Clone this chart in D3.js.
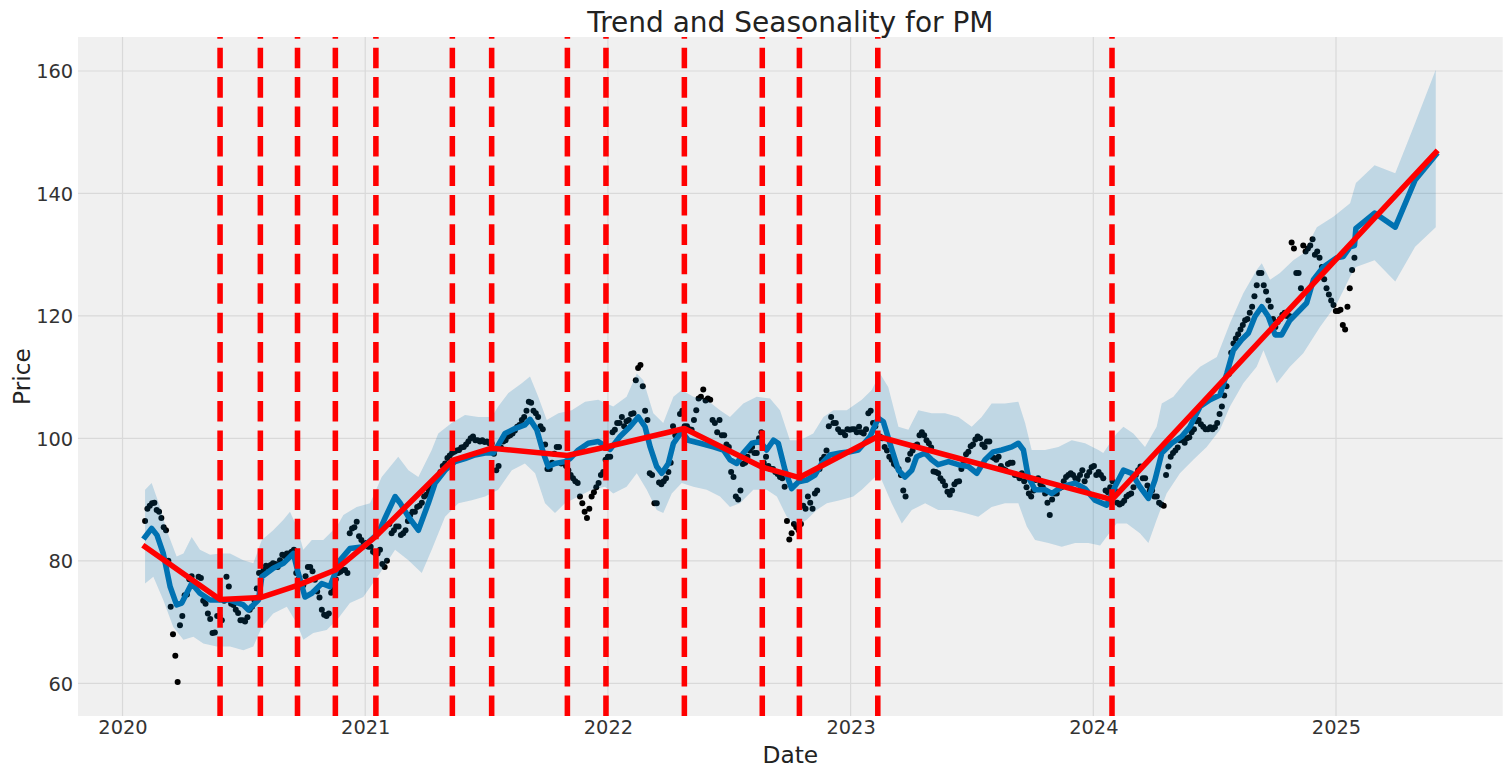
<!DOCTYPE html>
<html>
<head>
<meta charset="utf-8">
<script src="https://cdn.jsdelivr.net/npm/d3@7"></script>
<style>
  html, body { margin: 0; padding: 0; background: #ffffff; }
  svg { display: block; font-family: "DejaVu Sans", sans-serif; }
</style>
</head>
<body>
<svg id="chart" width="1510" height="776"></svg>
<script>
// ---------------- data (decimal years / price) ----------------
const xTicks = [2020, 2021, 2022, 2023, 2024, 2025];
const yTicks = [60, 80, 100, 120, 140, 160];

// observed closes: one value per week (Mondays, from 2020-02-03)
const obsStart = 2020.093;
const obsStepYears = 7 / 365.25;
const observed = [
  86.5, 89.0, 89.5, 88.0, 85.5, 80.0, 68.0, 60.2, 71.0, 74.5,
  77.5, 76.0, 77.2, 73.0, 70.5, 68.3, 71.0, 73.5, 75.8, 72.8,
  71.5, 70.3, 70.8, 72.5, 75.5, 78.0, 79.2, 79.3, 79.5, 80.1,
  80.8, 81.2, 81.8, 77.0, 76.0, 79.0, 78.3, 75.0, 72.0, 71.0,
  74.8, 77.0, 78.2, 78.5, 84.5, 85.5, 84.0, 82.8, 82.3, 81.5,
  81.2, 79.5, 80.0, 84.5, 85.6, 84.2, 85.0, 87.5, 88.0, 89.0,
  90.5, 91.5, 92.8, 93.7, 95.5, 96.8, 97.6, 98.0, 98.5, 99.0,
  100.0, 99.7, 99.5, 99.4, 99.2, 97.5, 95.5, 99.5, 100.3, 100.8,
  101.9, 103.0, 104.5, 105.8, 104.1, 102.0, 99.0, 95.0, 97.5, 98.6,
  96.0, 94.8, 93.5, 92.7, 89.4, 87.0, 90.5, 92.0, 94.0, 96.5,
  97.0, 101.4, 102.5, 102.0, 103.0, 104.1, 111.5, 108.5, 103.0, 94.0,
  89.4, 92.5, 93.5, 96.0, 100.5, 104.0, 102.0, 101.5, 103.0, 106.5,
  108.0, 106.5, 103.0, 101.0, 100.5, 99.0, 94.5, 90.5, 91.5, 96.0,
  98.0, 97.6, 100.0, 96.0, 95.5, 95.0, 94.2, 93.5, 86.5, 84.5,
  85.5, 86.0, 88.5, 89.5, 91.0, 95.0, 97.0, 102.0, 102.5, 101.5,
  101.0, 101.5, 101.5, 101.0, 101.0, 101.5, 104.5, 102.0, 100.3, 98.6,
  97.0, 95.8, 95.0, 91.5, 96.5, 98.0, 99.0, 101.0, 99.7, 98.5,
  94.5, 93.5, 92.3, 90.8, 92.5, 93.0, 96.3, 97.8, 99.0, 100.3,
  99.0, 99.5, 97.0, 96.5, 95.5, 94.8, 96.0, 94.0, 93.5, 93.0,
  91.0, 91.5, 93.5, 92.0, 89.5, 90.0, 91.0, 92.0, 93.7, 94.3,
  93.5, 94.0, 93.0, 94.5, 95.5, 94.5, 93.5, 91.2, 93.0, 89.5,
  89.4, 90.5, 91.0, 94.0, 95.4, 93.5, 91.5, 90.5, 89.5, 89.0,
  95.4, 97.6, 98.5, 99.7, 100.0, 101.0, 102.8, 102.3, 101.5, 101.8,
  101.8, 104.0, 107.0, 110.5, 115.5, 117.0, 118.5, 119.5, 121.5, 125.0,
  127.0, 124.0, 121.5, 118.2, 119.5, 120.5, 120.0, 131.0, 127.0, 131.5,
  131.0, 132.5, 130.5, 128.0, 124.5, 122.5, 120.8, 121.0, 117.8, 124.5,
  129.5
];
// observed closes: a second value per week (Thursdays, from 2020-02-06)
const obsMidOffsetYears = 3.5 / 365.25;
const observedMid = [
  88.5, 89.4, 88.3, 87.0, 85.0, 72.5, 64.5, 69.5, 74.4, 77.0,
  76.6, 77.4, 73.5, 71.4, 68.2, 71.0, 70.3, 77.4, 73.0, 72.0,
  70.3, 70.1, 72.0, 73.6, 78.0, 78.5, 79.0, 79.6, 79.0, 81.0,
  81.2, 81.5, 78.0, 75.8, 77.5, 79.0, 76.9, 74.0, 71.2, 71.4,
  75.5, 78.0, 78.5, 78.0, 85.3, 86.4, 83.4, 82.9, 82.3, 81.2,
  81.8, 79.0, 86.0, 85.0, 85.6, 84.5, 86.5, 88.0, 88.8, 89.5,
  90.8, 92.0, 93.2, 94.5, 95.9, 97.2, 97.8, 98.1, 98.6, 99.5,
  100.3, 99.7, 99.7, 99.5, 99.2, 94.8, 98.5, 99.7, 100.5, 101.3,
  102.2, 103.5, 106.0, 104.5, 103.5, 101.5, 95.0, 96.0, 98.6, 95.9,
  95.5, 94.0, 93.0, 90.5, 88.0, 88.5, 91.2, 92.7, 94.5, 97.0,
  101.0, 102.5, 103.5, 102.8, 104.0, 109.5, 112.0, 104.5, 94.3, 89.4,
  92.8, 93.0, 94.5, 102.0, 100.5, 104.5, 102.0, 101.4, 104.6, 106.8,
  106.2, 106.3, 102.5, 103.0, 100.5, 98.6, 93.7, 90.0, 95.8, 97.0,
  98.6, 97.6, 101.0, 97.0, 95.0, 94.5, 93.7, 92.1, 83.5, 86.0,
  85.0, 89.0, 90.5, 88.5, 91.5, 96.5, 98.0, 103.5, 102.5, 101.0,
  100.5, 101.4, 101.5, 101.9, 100.8, 104.1, 102.5, 100.3, 100.0, 98.0,
  96.5, 95.5, 94.0, 90.5, 97.5, 98.8, 100.5, 100.5, 99.2, 94.6,
  94.3, 93.0, 91.3, 91.5, 92.9, 95.0, 97.4, 98.7, 99.8, 100.0,
  98.6, 99.5, 96.8, 97.0, 95.0, 95.8, 96.0, 94.0, 94.3, 92.0,
  90.5, 93.2, 92.5, 91.0, 87.5, 91.0, 91.8, 93.0, 94.0, 94.0,
  93.3, 94.8, 93.9, 95.3, 94.0, 94.0, 91.5, 92.0, 91.5, 89.2,
  89.8, 90.8, 92.0, 94.8, 93.5, 92.3, 91.5, 90.5, 89.2, 94.0,
  97.0, 98.0, 99.7, 99.3, 100.2, 101.5, 103.0, 101.9, 101.5, 101.5,
  102.5, 105.2, 108.5, 114.0, 116.3, 117.8, 119.3, 120.5, 123.2, 127.0,
  125.0, 122.5, 119.5, 119.0, 120.2, 120.0, 132.0, 127.0, 124.5, 130.5,
  131.5, 130.0, 129.5, 126.0, 123.5, 121.8, 120.8, 118.5, 121.5, 127.5
];

// model fit (yhat) over history and monthly forecast
const fcstT = [
  2020.093, 2020.120, 2020.142, 2020.168, 2020.196, 2020.223, 2020.244, 2020.285, 2020.319, 2020.361,
  2020.443, 2020.498, 2020.518, 2020.560, 2020.574, 2020.621, 2020.663, 2020.704, 2020.724, 2020.752,
  2020.780, 2020.821, 2020.855, 2020.896, 2020.937, 2020.992, 2021.054, 2021.082, 2021.123, 2021.143,
  2021.178, 2021.219, 2021.260, 2021.288, 2021.329, 2021.370, 2021.411, 2021.452, 2021.494, 2021.528,
  2021.548, 2021.576, 2021.617, 2021.658, 2021.679, 2021.707, 2021.734, 2021.754, 2021.782, 2021.823,
  2021.844, 2021.878, 2021.919, 2021.960, 2022.009, 2022.050, 2022.091, 2022.125, 2022.153, 2022.174,
  2022.201, 2022.222, 2022.249, 2022.270, 2022.304, 2022.331, 2022.380, 2022.434, 2022.476, 2022.503,
  2022.531, 2022.558, 2022.593, 2022.627, 2022.654, 2022.682, 2022.702, 2022.730, 2022.757, 2022.785,
  2022.819, 2022.853, 2022.881, 2022.915, 2022.956, 2022.998, 2023.032, 2023.080, 2023.114, 2023.135,
  2023.162, 2023.197, 2023.224, 2023.252, 2023.272, 2023.307, 2023.334, 2023.361, 2023.403, 2023.444,
  2023.485, 2023.520, 2023.554, 2023.588, 2023.623, 2023.664, 2023.691, 2023.712, 2023.732, 2023.760,
  2023.801, 2023.829, 2023.870, 2023.925, 2023.966, 2024.007, 2024.055, 2024.089, 2024.124, 2024.158,
  2024.192, 2024.227, 2024.254, 2024.282, 2024.323, 2024.364, 2024.398, 2024.440, 2024.481, 2024.522,
  2024.550, 2024.577, 2024.611, 2024.639, 2024.666, 2024.694, 2024.721, 2024.749, 2024.776, 2024.810,
  2024.852, 2024.879, 2024.907, 2024.948, 2025.003, 2025.030, 2025.058, 2025.076, 2025.082, 2025.159,
  2025.244, 2025.326, 2025.411
];
const yhat = [
  83.9, 85.3, 84.2, 81.2, 75.8, 72.8, 73.1, 76.3, 74.7, 73.6,
  73.6, 72.8, 72.0, 73.6, 77.4, 78.8, 79.6, 81.2, 78.0, 74.1,
  74.7, 76.3, 75.8, 80.1, 82.0, 82.3, 84.5, 87.0, 90.5, 89.5,
  87.2, 85.0, 89.4, 92.7, 94.8, 96.2, 96.7, 97.3, 97.6, 97.6,
  98.9, 100.8, 101.6, 102.2, 103.1, 101.4, 97.6, 95.4, 95.9, 96.2,
  96.7, 98.1, 99.2, 99.5, 98.2, 100.3, 101.9, 103.5, 101.9, 98.6,
  95.4, 94.3, 95.9, 99.2, 101.1, 99.7, 99.2, 98.6, 98.1, 96.5,
  95.9, 97.6, 99.2, 99.5, 98.1, 99.7, 99.2, 94.8, 91.8, 92.9,
  93.2, 94.0, 95.9, 97.3, 97.6, 97.8, 98.1, 100.3, 103.3, 102.7,
  99.2, 94.8, 93.7, 94.8, 97.0, 97.6, 96.5, 95.7, 96.2, 95.7,
  95.4, 94.3, 96.5, 97.8, 98.1, 98.6, 99.2, 98.1, 93.7, 91.6,
  91.6, 91.0, 92.1, 92.7, 91.8, 89.9, 89.1, 92.1, 94.8, 94.3,
  92.1, 90.2, 93.2, 97.6, 99.2, 100.3, 101.9, 105.2, 106.3, 107.1,
  110.6, 114.4, 116.1, 117.2, 119.9, 121.5, 119.9, 116.9, 116.9, 119.3,
  121.0, 122.1, 125.9, 128.0, 129.5, 129.7, 131.3, 131.5, 134.3, 136.8,
  134.5, 142.2, 146.3
];

// uncertainty interval, upper edge
const upperT = [
  2020.093, 2020.120, 2020.155, 2020.182, 2020.223, 2020.251, 2020.285, 2020.319, 2020.361, 2020.402,
  2020.443, 2020.498, 2020.539, 2020.574, 2020.621, 2020.663, 2020.690, 2020.718, 2020.745, 2020.780,
  2020.827, 2020.883, 2020.910, 2020.965, 2021.020, 2021.068, 2021.136, 2021.178, 2021.219, 2021.274,
  2021.301, 2021.356, 2021.411, 2021.466, 2021.521, 2021.548, 2021.590, 2021.645, 2021.679, 2021.713,
  2021.748, 2021.796, 2021.851, 2021.906, 2021.960, 2022.022, 2022.077, 2022.119, 2022.146, 2022.187,
  2022.228, 2022.270, 2022.304, 2022.352, 2022.407, 2022.462, 2022.503, 2022.558, 2022.613, 2022.668,
  2022.709, 2022.750, 2022.792, 2022.846, 2022.888, 2022.929, 2022.984, 2023.046, 2023.087, 2023.121,
  2023.155, 2023.197, 2023.238, 2023.279, 2023.334, 2023.389, 2023.444, 2023.499, 2023.540, 2023.581,
  2023.636, 2023.691, 2023.719, 2023.746, 2023.801, 2023.856, 2023.911, 2023.966, 2024.021, 2024.041,
  2024.096, 2024.124, 2024.165, 2024.213, 2024.261, 2024.282, 2024.330, 2024.385, 2024.440, 2024.509,
  2024.563, 2024.618, 2024.673, 2024.694, 2024.728, 2024.769, 2024.824, 2024.865, 2024.921, 2024.989,
  2025.058, 2025.082, 2025.159, 2025.244, 2025.326, 2025.411
];
const upper = [
  91.6, 92.7, 88.8, 85.0, 80.7, 81.2, 83.9, 81.8, 81.0, 81.2,
  81.2, 80.1, 79.6, 83.4, 85.0, 86.7, 88.0, 85.6, 81.8, 83.4,
  83.4, 85.6, 87.5, 88.8, 89.4, 93.7, 97.0, 94.8, 93.7, 98.1,
  100.8, 102.5, 103.8, 103.5, 103.5, 105.2, 107.4, 109.0, 110.1, 106.8,
  103.0, 104.1, 104.6, 106.0, 106.3, 105.2, 106.8, 110.6, 109.5, 104.1,
  102.5, 106.8, 107.9, 106.8, 106.3, 104.6, 103.5, 105.7, 106.8, 106.5,
  104.6, 99.7, 99.7, 100.8, 103.5, 104.6, 104.6, 106.3, 107.9, 110.6,
  108.4, 101.9, 101.4, 104.6, 104.1, 104.1, 103.5, 101.9, 103.5, 105.7,
  105.7, 106.0, 102.5, 98.1, 98.1, 98.6, 99.7, 99.2, 98.1, 97.6,
  100.8, 101.9, 100.8, 98.6, 101.9, 105.7, 106.8, 109.5, 111.7, 113.3,
  118.8, 123.7, 127.5, 128.6, 125.9, 127.0, 129.1, 130.2, 134.5, 136.2,
  138.4, 141.7, 144.6, 143.3, 151.5, 160.2
];

// uncertainty interval, lower edge
const lowerT = [
  2020.093, 2020.127, 2020.168, 2020.209, 2020.251, 2020.292, 2020.333, 2020.388, 2020.443, 2020.498,
  2020.539, 2020.574, 2020.621, 2020.677, 2020.718, 2020.745, 2020.786, 2020.841, 2020.883, 2020.937,
  2020.992, 2021.061, 2021.123, 2021.178, 2021.233, 2021.274, 2021.329, 2021.384, 2021.439, 2021.494,
  2021.548, 2021.604, 2021.658, 2021.700, 2021.741, 2021.782, 2021.823, 2021.878, 2021.933, 2021.988,
  2022.022, 2022.077, 2022.119, 2022.160, 2022.201, 2022.228, 2022.263, 2022.304, 2022.352, 2022.407,
  2022.462, 2022.503, 2022.544, 2022.599, 2022.654, 2022.696, 2022.737, 2022.778, 2022.819, 2022.860,
  2022.902, 2022.956, 2023.011, 2023.046, 2023.101, 2023.128, 2023.169, 2023.211, 2023.252, 2023.307,
  2023.361, 2023.417, 2023.471, 2023.526, 2023.581, 2023.636, 2023.691, 2023.726, 2023.760, 2023.815,
  2023.870, 2023.925, 2023.979, 2024.028, 2024.096, 2024.138, 2024.192, 2024.227, 2024.261, 2024.302,
  2024.357, 2024.412, 2024.467, 2024.522, 2024.563, 2024.618, 2024.673, 2024.701, 2024.728, 2024.756,
  2024.810, 2024.865, 2024.934, 2025.003, 2025.058, 2025.082, 2025.159, 2025.244, 2025.326, 2025.411
];
const lower = [
  76.3, 77.4, 73.6, 69.2, 67.1, 67.6, 66.5, 66.0, 66.0, 65.4,
  66.0, 69.2, 71.4, 72.5, 69.8, 67.1, 68.2, 68.7, 70.3, 73.1,
  74.1, 78.0, 81.8, 80.1, 78.0, 81.8, 87.2, 89.4, 89.9, 90.5,
  91.6, 94.8, 95.9, 94.3, 89.4, 87.8, 89.4, 90.5, 91.6, 92.1,
  91.0, 92.1, 94.3, 91.6, 88.3, 87.8, 91.0, 92.7, 92.1, 91.6,
  90.5, 88.8, 89.4, 91.6, 91.6, 90.5, 87.2, 85.6, 86.7, 88.3,
  89.4, 89.9, 90.5, 91.6, 93.7, 93.2, 89.4, 86.1, 88.3, 89.4,
  88.3, 88.3, 87.8, 87.2, 88.8, 89.4, 89.4, 85.6, 83.4, 82.9,
  82.3, 82.9, 82.9, 82.5, 86.1, 86.1, 84.5, 82.9, 86.7, 91.0,
  94.3, 96.5, 98.6, 101.4, 105.2, 109.0, 111.7, 114.4, 111.7, 109.0,
  111.7, 113.9, 118.2, 122.0, 126.4, 128.0, 129.1, 125.6, 131.3, 134.5
];

// piecewise-linear trend and its changepoints
const trendT = [
  2020.093, 2020.402, 2020.568, 2020.721, 2020.877, 2021.044, 2021.359, 2021.521,
  2021.833, 2021.992, 2022.315, 2022.636, 2022.789, 2023.112, 2024.077, 2025.411
];
const trend = [
  82.3, 73.7, 74.0, 76.0, 78.5, 84.0, 96.4, 98.4,
  97.2, 98.6, 101.6, 95.3, 93.6, 100.3, 90.0, 146.7
];
const changepoints = [
  2020.402, 2020.568, 2020.721, 2020.877, 2021.044, 2021.359, 2021.521,
  2021.833, 2021.992, 2022.315, 2022.636, 2022.789, 2023.112, 2024.077
];

// ---------------- layout ----------------
const plot = { left: 78, top: 37, right: 1502.7, bottom: 716 };
const svg = d3.select("#chart");

const x = d3.scaleLinear().domain([2019.8166, 2025.6868]).range([plot.left, plot.right]);
const y = d3.scaleLinear().domain([54.66, 165.55]).range([plot.bottom, plot.top]);

const lw = 4 * 100 / 72; // 4pt at 100 dpi

svg.append("rect").attr("x", 0).attr("y", 0).attr("width", 1510).attr("height", 776).attr("fill", "#ffffff");

svg.append("defs").append("clipPath").attr("id", "clip")
  .append("rect").attr("x", plot.left).attr("y", plot.top)
  .attr("width", plot.right - plot.left).attr("height", plot.bottom - plot.top);

svg.append("rect")
  .attr("x", plot.left).attr("y", plot.top)
  .attr("width", plot.right - plot.left).attr("height", plot.bottom - plot.top)
  .attr("fill", "#f0f0f0");

// grid
const grid = svg.append("g").attr("clip-path", "url(#clip)");
grid.selectAll("line.gx").data(xTicks).join("line")
  .attr("x1", d => x(d)).attr("x2", d => x(d))
  .attr("y1", plot.top).attr("y2", plot.bottom)
  .attr("stroke", "#d9d9d9").attr("stroke-width", 1.2);
grid.selectAll("line.gy").data(yTicks).join("line")
  .attr("x1", plot.left).attr("x2", plot.right)
  .attr("y1", d => y(d)).attr("y2", d => y(d))
  .attr("stroke", "#d9d9d9").attr("stroke-width", 1.2);

// axes (tick labels only, like the reference)
const xAxis = d3.axisBottom(x).tickValues(xTicks).tickFormat(d3.format("d")).tickSize(0).tickPadding(0);
const gx = svg.append("g").attr("transform", `translate(0,${plot.bottom})`).call(xAxis);
gx.select(".domain").remove();
gx.selectAll("text").attr("dy", null).attr("y", 18.3)
  .attr("font-size", "19.4px").attr("font-family", "DejaVu Sans").attr("fill", "#333333");

const yAxis = d3.axisLeft(y).tickValues(yTicks).tickSize(0).tickPadding(0);
const gy = svg.append("g").attr("transform", `translate(${plot.left},0)`).call(yAxis);
gy.select(".domain").remove();
gy.selectAll("text").attr("x", -4.8).attr("dy", "0.36em")
  .attr("font-size", "19.4px").attr("font-family", "DejaVu Sans").attr("fill", "#333333");

// marks
const marks = svg.append("g").attr("clip-path", "url(#clip)");

const obsPts = observed.map((v, i) => [obsStart + i * obsStepYears, v])
  .concat(observedMid.map((v, i) => [obsStart + obsMidOffsetYears + i * obsStepYears, v]));
marks.selectAll("circle.obs").data(obsPts).join("circle")
  .attr("cx", d => x(d[0])).attr("cy", d => y(d[1])).attr("r", 3).attr("fill", "#000000");

const line = d3.line().x(d => x(d[0])).y(d => y(d[1]));
const yhatPts = fcstT.map((t, i) => [t, yhat[i]]);
marks.append("path").attr("d", line(yhatPts))
  .attr("fill", "none").attr("stroke", "#0072B2").attr("stroke-width", lw)
  .attr("stroke-linejoin", "round").attr("stroke-linecap", "square");

const upPts = upperT.map((t, i) => [t, upper[i]]);
const loPts = lowerT.map((t, i) => [t, lower[i]]);
const bandPoly = upPts.concat(loPts.slice().reverse());
marks.append("path").attr("d", line(bandPoly) + "Z")
  .attr("fill", "#0072B2").attr("fill-opacity", 0.2).attr("stroke", "none");

const trendPts = trendT.map((t, i) => [t, trend[i]]);
marks.append("path").attr("d", line(trendPts))
  .attr("fill", "none").attr("stroke", "#ff0000").attr("stroke-width", lw)
  .attr("stroke-linejoin", "round").attr("stroke-linecap", "square");

marks.selectAll("line.cp").data(changepoints).join("line")
  .attr("x1", d => x(d)).attr("x2", d => x(d))
  .attr("y1", plot.bottom).attr("y2", plot.top)
  .attr("stroke", "#ff0000").attr("stroke-width", lw)
  .attr("stroke-dasharray", `${3.7 * lw} ${1.6 * lw}`);

// labels
svg.append("text").attr("x", (plot.left + plot.right) / 2).attr("y", 31.5)
  .attr("text-anchor", "middle").attr("font-size", "28px").attr("fill", "#222222")
  .text("Trend and Seasonality for PM");
svg.append("text").attr("x", (plot.left + plot.right) / 2).attr("y", 763)
  .attr("text-anchor", "middle").attr("font-size", "23.3px").attr("fill", "#222222")
  .text("Date");
svg.append("text").attr("transform", `translate(29.5,${(plot.top + plot.bottom) / 2}) rotate(-90)`)
  .attr("text-anchor", "middle").attr("font-size", "23.3px").attr("fill", "#222222")
  .text("Price");
</script>
</body>
</html>
